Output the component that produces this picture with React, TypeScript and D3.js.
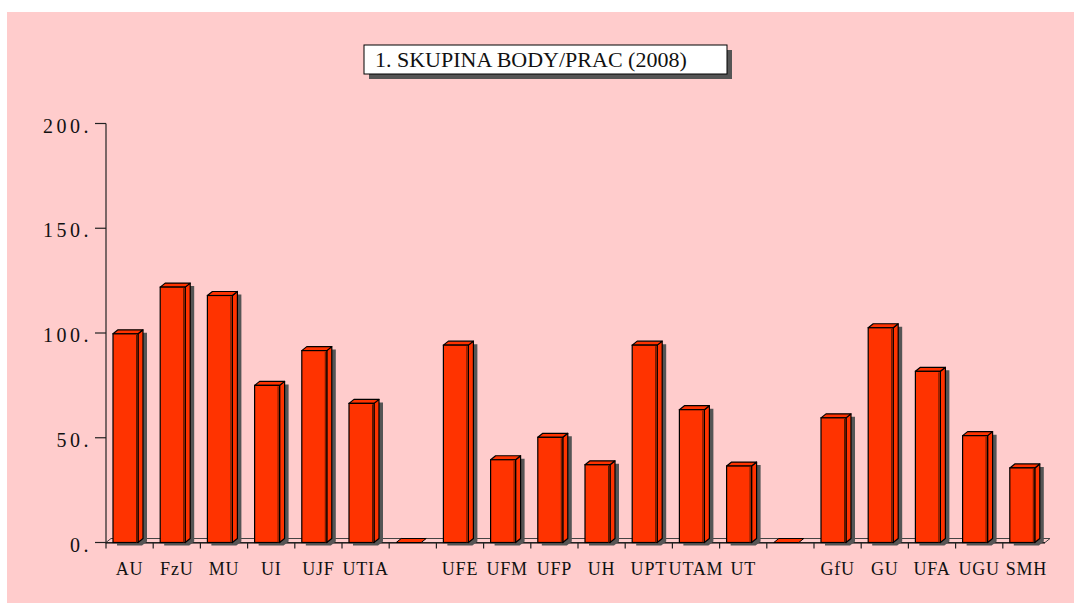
import React from "react";
import * as d3 from "d3";

const categories = ["AU", "FzU", "MU", "UI", "UJF", "UTIA", "", "UFE", "UFM", "UFP", "UH", "UPT", "UTAM", "UT", "", "GfU", "GU", "UFA", "UGU", "SMH"];
const values = [99.6, 121.9, 117.9, 75, 91.6, 66.4, 0, 94.2, 39.5, 50.2, 37.1, 94.2, 63.4, 36.5, 0, 59.5, 102.5, 81.7, 51, 35.6];
const yTicks = [0, 50, 100, 150, 200];
const title = "1. SKUPINA BODY/PRAC (2008)";

const W = 1074;
const H = 603;
const RED = "#FF3300";
const PINK = "#FFCCCC";
const SHADOW = "#555555";
const FONT = "'Liberation Serif', 'DejaVu Serif', serif";

export default function App() {
  const x0 = 106, x1 = 1050;
  const yBase = 542.5, yTop = 123.5;
  const x = d3.scaleBand<number>().domain(d3.range(categories.length)).range([x0, x1]).paddingInner(0).paddingOuter(0);
  const y = d3.scaleLinear().domain([0, 200]).range([yBase, yTop]);
  const bw = x.bandwidth();
  const barOff = 7, barW = 25, dx = 5, dy = 4;

  return (
    <svg width={W} height={H} style={{ position: "absolute", left: 0, top: 0 }}>
      <rect x={7} y={12} width={W - 7} height={H - 12} fill={PINK} />
      {/* title box */}
      <rect x={369} y={50} width={363} height={29} fill={SHADOW} />
      <rect x={364} y={45} width={363} height={29} fill="#fff" stroke="#000" strokeWidth={1} />
      <text x={375} y={67} fontFamily={FONT} fontSize={22} letterSpacing={0} fill="#111">{title}</text>

      {/* floor */}
      <polygon points={`${x0},${yBase} ${x0 + dx},${yBase - dy} ${x1},${yBase - dy} ${x1 - dx},${yBase}`} fill="none" stroke="#444" strokeWidth={1} />
      <line x1={x0} x2={x1 - dx} y1={yBase + 0.5} y2={yBase + 0.5} stroke="#000" strokeWidth={1.2} />

      {/* y axis */}
      <line x1={x0} x2={x0} y1={yTop} y2={yBase + 1} stroke="#222" strokeWidth={1.2} />
      {yTicks.map((t) => (
        <g key={t}>
          <line x1={95} x2={x0} y1={y(t)} y2={y(t)} stroke="#222" strokeWidth={1.2} />
          <text x={92} y={y(t) + 9} textAnchor="end" fontFamily={FONT} fontSize={20} letterSpacing={3.5} fill="#111">{`${t}.`}</text>
        </g>
      ))}

      {/* x ticks */}
      {d3.range(categories.length).map((i) => (
        <line key={i} x1={x(i)!} x2={x(i)!} y1={yBase} y2={yBase + 6} stroke="#222" strokeWidth={1.2} />
      ))}

      {/* bars */}
      {values.map((v, i) => {
        const bx = x(i)! + barOff;
        const top = y(v);
        const base = yBase;
        const shadowPts = `${bx + 4},${top + 3} ${bx + dx + 4},${top - dy + 3} ${bx + barW + dx + 4},${top - dy + 3} ${bx + barW + dx + 4},${base - dy + 3} ${bx + barW + 4},${base + 3} ${bx + 4},${base + 3}`;
        const topFace = `${bx},${top} ${bx + dx},${top - dy} ${bx + barW + dx},${top - dy} ${bx + barW},${top}`;
        const side = `${bx + barW},${top} ${bx + barW + dx},${top - dy} ${bx + barW + dx},${base - dy} ${bx + barW},${base}`;
        if (v === 0) {
          return (
            <g key={i}>
              <polygon points={topFace} fill={RED} stroke="#000" strokeWidth={1} />
            </g>
          );
        }
        return (
          <g key={i}>
            <polygon points={shadowPts} fill={SHADOW} />
            <polygon points={side} fill={RED} stroke="#000" strokeWidth={1.2} strokeLinejoin="round" />
            <polygon points={topFace} fill={RED} stroke="#000" strokeWidth={1.2} strokeLinejoin="round" />
            <rect x={bx} y={top} width={barW} height={base - top} fill={RED} stroke="#000" strokeWidth={1.2} />
            <line x1={bx + barW - 1.5} x2={bx + barW - 1.5} y1={top + 1} y2={base} stroke="#5a1a00" strokeWidth={1} />
          </g>
        );
      })}

      {/* x labels */}
      {categories.map((c, i) => (
        <text key={i} x={x(i)! + bw / 2} y={575} textAnchor="middle" fontFamily={FONT} fontSize={18} letterSpacing={0.8} fill="#111">{c}</text>
      ))}
    </svg>
  );
}
